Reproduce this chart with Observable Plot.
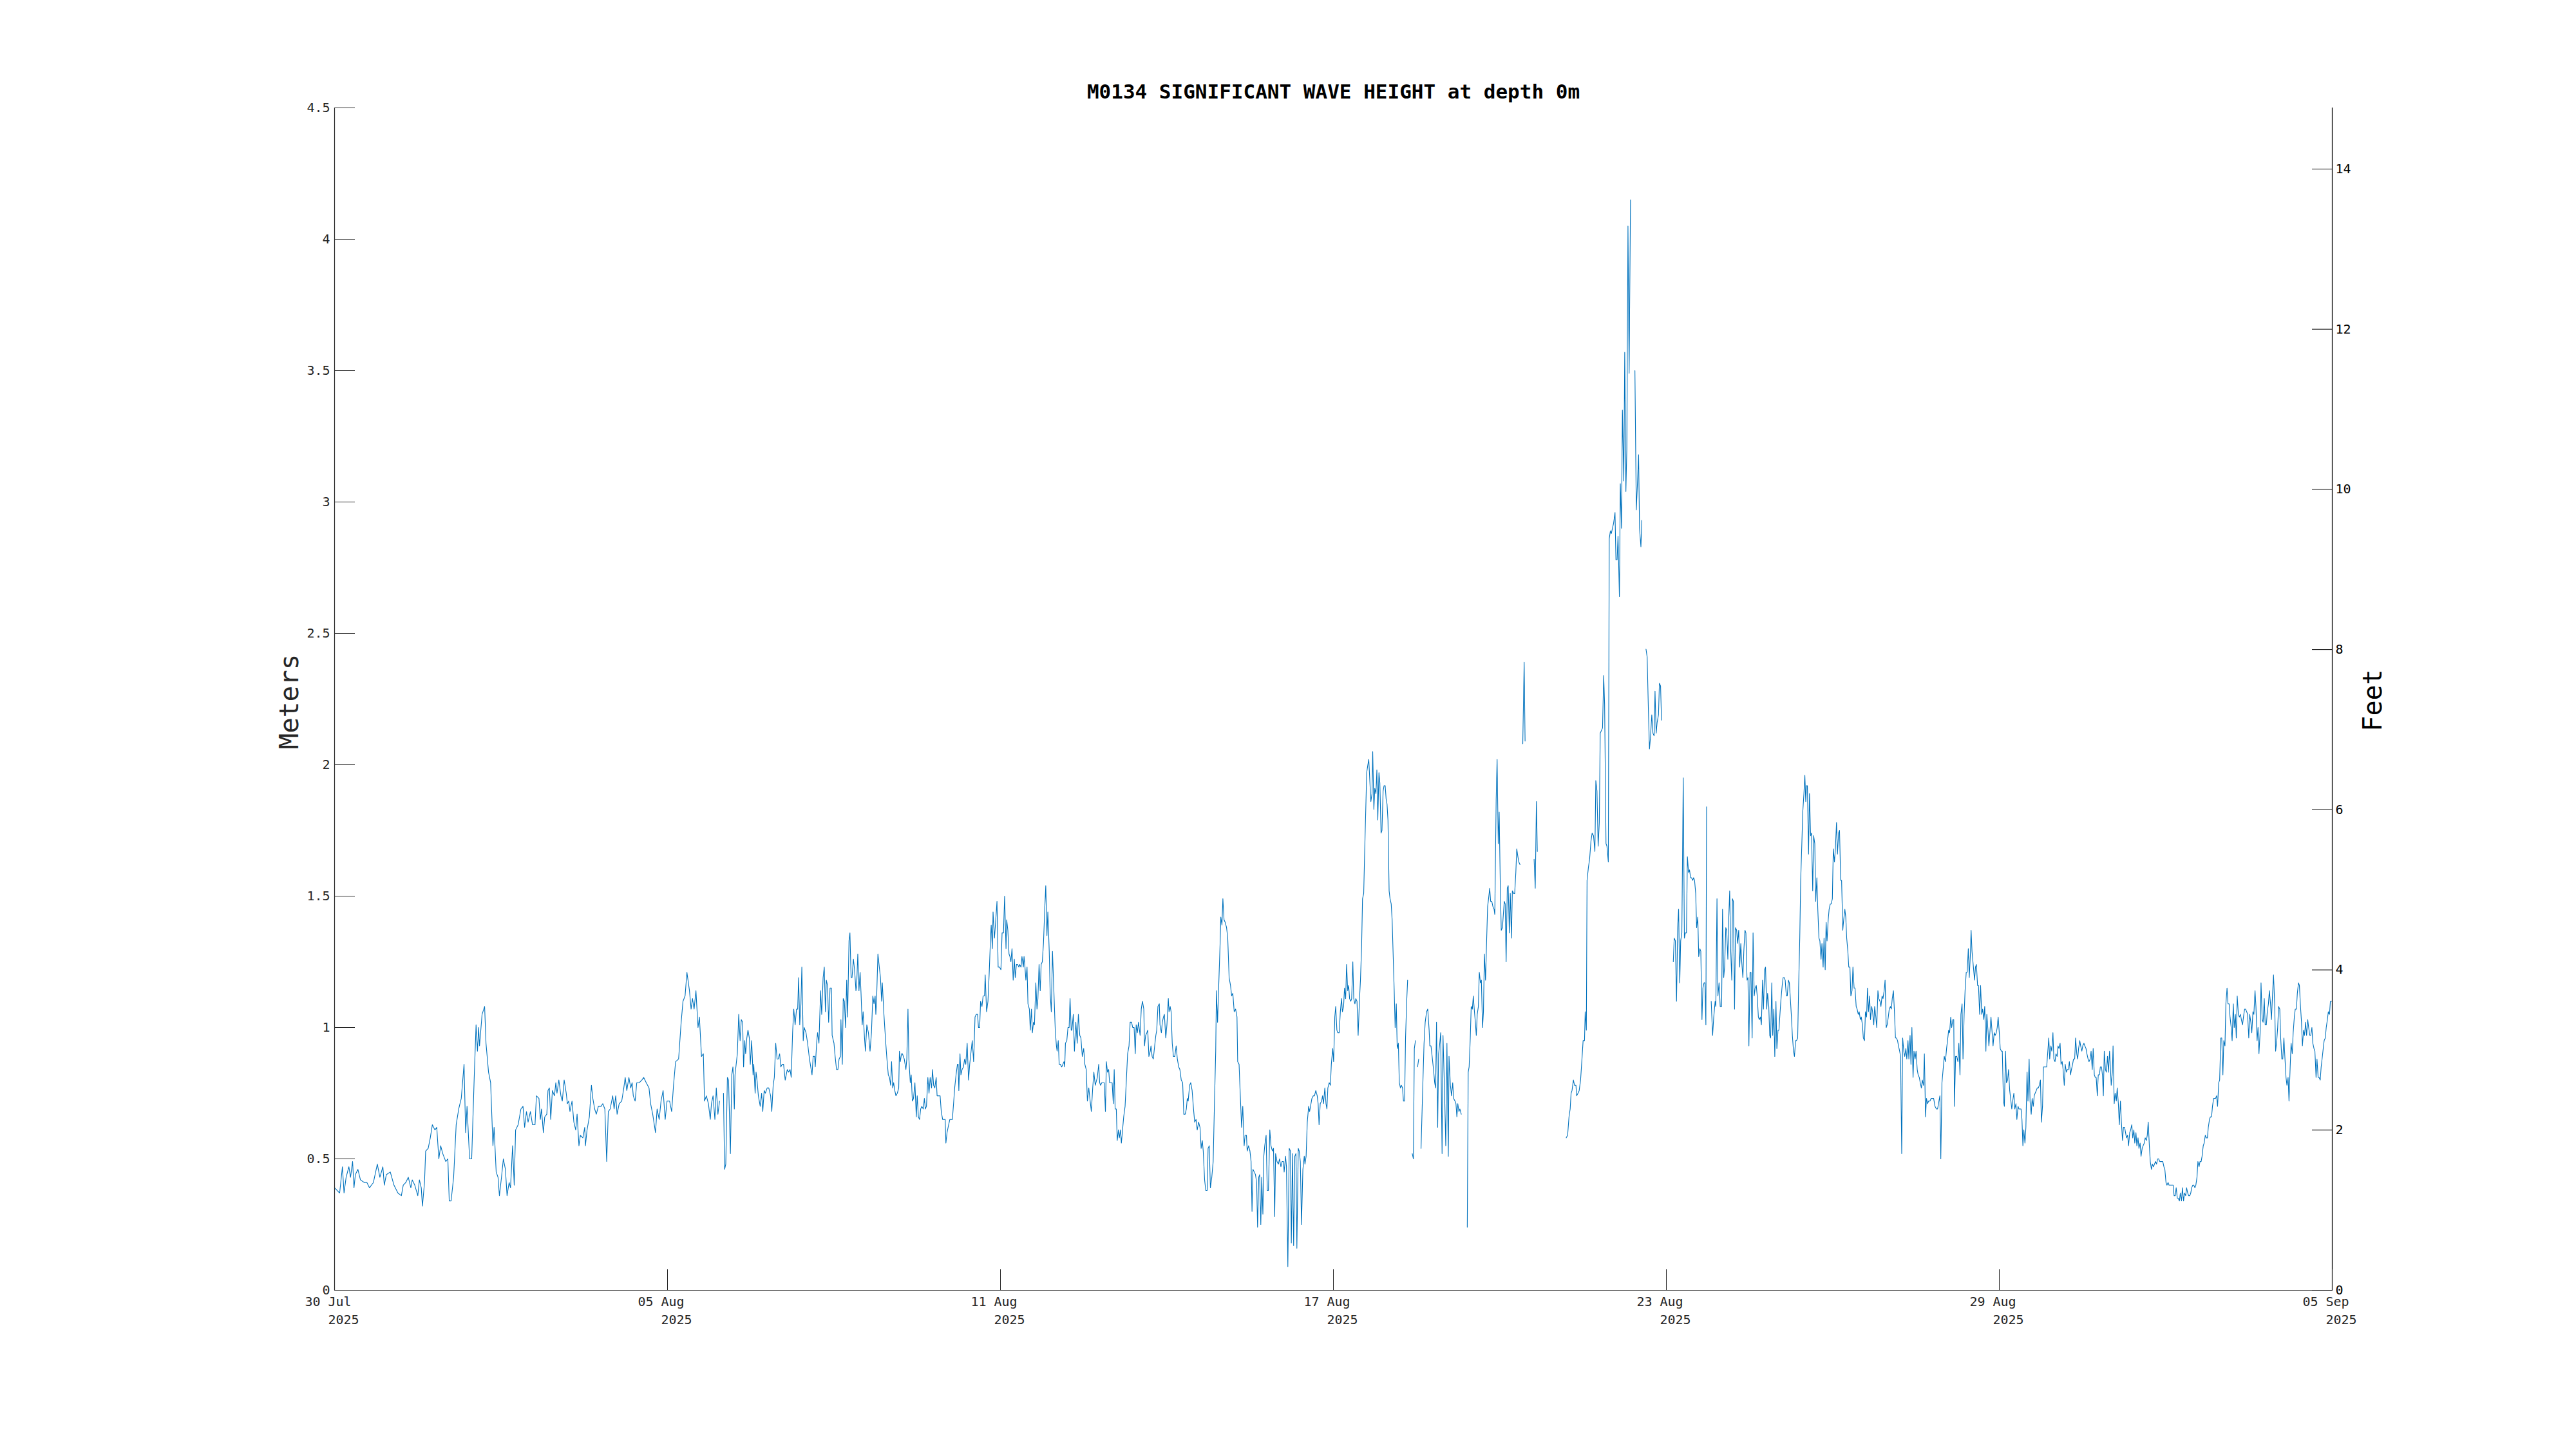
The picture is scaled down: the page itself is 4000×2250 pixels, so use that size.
<!DOCTYPE html>
<html><head><meta charset="utf-8">
<script src="https://cdn.jsdelivr.net/npm/d3@7"></script>
<script src="https://cdn.jsdelivr.net/npm/@observablehq/plot@0.6"></script>
<style>html,body{margin:0;padding:0;background:#fff;} svg{display:block;}</style>
</head><body><div id="chart"></div>
<script>
const titleText = "M0134 SIGNIFICANT WAVE HEIGHT at depth 0m";
const leftLabel = "Meters";
const rightLabel = "Feet";
const startTime = "2025-07-30T00:00:00Z";
const endTime = "2025-09-04T00:00:00Z";
const xTickDates = ["2025-07-30","2025-08-05","2025-08-11","2025-08-17","2025-08-23","2025-08-29","2025-09-04"];
const xTickDayLabels = ["30 Jul","05 Aug","11 Aug","17 Aug","23 Aug","29 Aug","05 Sep"];
const xTickYearLabels = ["2025","2025","2025","2025","2025","2025","2025"];
const meterTicks = [0,0.5,1,1.5,2,2.5,3,3.5,4,4.5];
const feetTicks = [0,2,4,6,8,10,12,14];
const metersPerFoot = 0.3048;

// [hours since 30 Jul 00:00, significant wave height in m]; null = gap
const readingsJul30 = [[0.0,0.39],[2.2,0.37],[3.4,0.47],[4.1,0.37],[5.0,0.43],[6.2,0.47],[6.9,0.43],[7.8,0.49],[8.4,0.39],[9.0,0.44],[10.1,0.46],[11.2,0.42],[12.9,0.41],[14.0,0.41],[15.1,0.39],[16.8,0.41],[18.5,0.48],[19.6,0.43],[20.9,0.47],[21.5,0.40],[22.4,0.44],[24.1,0.45],[25.7,0.40],[27.4,0.37],[28.9,0.36],[29.7,0.40],[30.8,0.41],[31.9,0.43],[33.0,0.39],[33.6,0.42],[34.7,0.40],[36.0,0.36],[36.7,0.42],[37.5,0.39],[38.0,0.32],[38.9,0.41],[39.4,0.53],[40.5,0.54],[41.4,0.58],[42.3,0.63],[43.4,0.61],[44.2,0.62],[45.1,0.50],[45.9,0.55],[46.8,0.52],[48.1,0.49],[49.0,0.50],[49.6,0.34],[50.4,0.34],[51.5,0.43],[52.6,0.63],[53.7,0.69],[54.8,0.73],[56.0,0.86],[56.7,0.60],[57.3,0.70],[58.4,0.50],[59.3,0.50],[60.4,0.81],[61.2,1.01],[61.8,0.91],[62.3,1.00],[62.7,0.93],[63.8,1.05],[64.9,1.08],[65.5,0.94],[66.6,0.83],[67.5,0.79],[68.5,0.55],[69.0,0.62],[69.9,0.45],[70.7,0.43],[71.3,0.36],[72.2,0.43],[73.0,0.50],[73.9,0.46],[74.6,0.36],[75.5,0.41],[76.1,0.39],[77.0,0.55],[77.7,0.40],[78.3,0.61],[79.4,0.63],[80.6,0.69],[81.5,0.70],[82.2,0.62],[83.0,0.68],[83.7,0.64],[84.7,0.68],[85.6,0.63],[86.7,0.63],[87.3,0.74],[88.4,0.73],[89.0,0.65],[89.5,0.69],[90.3,0.60],[90.9,0.66],[91.8,0.67],[92.3,0.76],[92.9,0.77],[93.5,0.65],[94.2,0.76],[95.1,0.74],[95.7,0.79],[96.2,0.75],[97.0,0.80],[97.9,0.74],[98.5,0.72],[99.3,0.80],[100.2,0.75],[100.7,0.71],[101.3,0.72],[101.8,0.68],[102.7,0.72],[103.5,0.64],[104.3,0.61],[104.9,0.67],[105.7,0.55],[106.3,0.59],[107.4,0.58],[108.2,0.62],[108.5,0.55],[109.2,0.61],[110.2,0.66],[111.1,0.78],[111.7,0.73],[112.5,0.69],[113.2,0.67],[114.1,0.70],[115.3,0.70],[116.0,0.71],[116.9,0.69],[117.7,0.49],[118.4,0.68],[119.2,0.69],[120.3,0.74],[120.9,0.69],[121.6,0.74],[122.2,0.67],[123.1,0.71],[124.2,0.72],[125.1,0.77],[125.7,0.81],[126.4,0.76],[127.3,0.81],[128.1,0.77],[128.7,0.79],[129.2,0.74],[130.0,0.72],[130.7,0.79],[131.8,0.79],[132.9,0.80],[133.7,0.81],[134.8,0.79],[136.0,0.77],[136.7,0.71],[137.6,0.67],[138.8,0.60],[139.5,0.69],[140.4,0.65],[141.2,0.72],[142.1,0.76],[143.0,0.65],[143.8,0.72],[144.9,0.72],[145.8,0.68],[146.6,0.78],[147.5,0.87],[148.8,0.88],[149.9,1.02],[150.7,1.10],[151.6,1.12],[152.4,1.21],[153.5,1.14],[154.2,1.07],[154.8,1.11],[155.5,1.07],[156.3,1.14],[157.2,1.00],[157.8,1.04],[158.7,0.89],[159.5,0.90],[160.0,0.72],[160.8,0.74],[161.7,0.71],[162.5,0.65],[163.0,0.71],[163.7,0.74],[164.5,0.65],[165.1,0.77],[165.8,0.67],[166.5,0.72],[167.3,null],[168.2,0.75],[168.7,0.46],[169.2,0.48],[169.9,0.81],[170.4,0.80],[171.2,0.52],[171.8,0.82],[172.3,0.85],[172.9,0.69],[173.2,0.82]];

const readingsAug06 = [[174.2,0.90],[174.8,1.05],[175.4,0.95],[175.9,1.03],[176.5,1.02],[176.9,0.85],[177.4,0.95],[177.8,0.90],[178.3,0.96],[178.8,0.99],[179.4,0.96],[179.8,0.86],[180.4,0.95],[181.0,0.82],[181.3,0.86],[181.9,0.75],[182.3,0.83],[182.7,0.80],[183.3,0.74],[184.1,0.70],[184.7,0.75],[185.2,0.68],[185.8,0.76],[186.3,0.75],[187.1,0.77],[187.8,0.77],[188.6,0.74],[189.1,0.68],[189.7,0.78],[190.2,0.81],[190.8,0.94],[191.4,0.88],[191.9,0.88],[192.5,0.90],[193.0,0.85],[193.6,0.86],[194.2,0.86],[194.9,0.80],[195.8,0.84],[196.4,0.83],[197.0,0.84],[197.5,0.81],[198.1,0.98],[198.6,1.07],[199.2,1.01],[199.8,1.07],[200.3,1.07],[200.7,1.19],[201.2,1.01],[201.7,1.09],[202.1,1.23],[202.7,0.95],[203.1,1.00],[203.9,0.98],[204.6,0.94],[205.4,0.88],[206.5,0.82],[207.0,0.89],[207.6,0.89],[207.9,0.85],[208.5,0.94],[208.9,0.98],[209.5,0.94],[210.2,1.14],[210.7,1.05],[211.3,1.19],[211.8,1.23],[212.3,1.06],[212.7,1.18],[213.2,1.16],[213.7,1.02],[214.3,1.15],[214.9,1.15],[215.2,0.97],[216.0,0.94],[216.5,0.89],[217.1,0.84],[217.7,0.84],[218.2,0.88],[218.8,0.89],[219.0,1.03],[219.6,0.86],[220.0,1.11],[220.5,1.10],[221.0,1.00],[221.5,1.18],[221.9,1.04],[222.5,1.33],[222.9,1.36],[223.4,1.19],[223.8,1.19],[224.4,1.26],[224.9,1.22],[225.5,1.14],[225.8,1.16],[226.3,1.28],[226.8,1.14],[227.3,1.21],[227.7,1.13],[228.2,1.01],[228.6,1.06],[229.2,0.96],[229.6,0.91],[230.2,1.01],[230.9,0.98],[231.6,0.91],[232.2,0.98],[232.8,1.12],[233.3,1.09],[233.8,1.12],[234.1,1.05],[234.4,1.10],[235.0,1.28],[235.6,1.23],[236.1,1.19],[236.6,1.10],[236.9,1.17],[237.6,1.05],[238.4,0.94],[238.9,0.88],[239.5,0.82],[240.0,0.81],[240.5,0.78],[240.9,0.87],[241.4,0.77],[241.8,0.79],[242.3,0.76],[242.8,0.74],[243.4,0.75],[244.0,0.77],[244.3,0.91],[244.7,0.87],[245.2,0.90],[245.6,0.90],[246.4,0.88],[247.1,0.84],[247.5,0.88],[248.0,1.07],[248.4,0.88],[249.0,0.79],[249.4,0.82],[249.9,0.72],[250.4,0.73],[251.0,0.79],[251.6,0.66],[252.0,0.74],[252.5,0.66],[253.0,0.65],[253.5,0.69],[254.0,0.70],[254.6,0.69],[255.1,0.73],[255.5,0.69],[256.0,0.70],[256.6,0.81],[257.1,0.75],[257.6,0.81],[258.2,0.77],[258.6,0.84],[259.1,0.78],[259.6,0.77],[260.2,0.81],[260.6,0.74],[261.3,0.74],[261.9,0.74],[262.4,0.68],[263.0,0.65],[263.5,0.65],[264.1,0.65],[264.4,0.56],[264.9,0.60],[265.6,0.63],[266.1,0.65],[266.7,0.65],[267.2,0.65],[267.8,0.72],[268.2,0.77],[268.8,0.82],[269.4,0.86],[269.7,0.86],[270.0,0.76],[270.5,0.90],[270.9,0.82],[271.4,0.84],[272.0,0.85],[272.5,0.88],[273.0,0.86],[273.6,0.94],[274.2,0.80],[274.7,0.86],[275.3,0.91],[275.8,0.95],[276.4,0.87],[277.0,1.04],[277.5,1.05],[278.1,1.05],[278.5,1.00],[279.0,1.00],[279.4,1.10],[280.0,1.08],[280.5,1.12],[281.1,1.12],[281.4,1.20],[282.0,1.06],[282.6,1.10],[283.1,1.20],[283.7,1.34],[284.0,1.39],[284.5,1.30],[284.8,1.44],[285.4,1.34],[285.9,1.40],[286.5,1.48],[287.0,1.23],[287.6,1.23],[288.2,1.22],[288.7,1.36],[289.3,1.36],[289.8,1.50],[290.4,1.30],[290.7,1.41],[291.2,1.37],[291.7,1.28],[292.1,1.27],[292.5,1.25],[293.0,1.30],[293.5,1.18],[294.0,1.26],[294.4,1.19],[294.9,1.24],[295.4,1.24],[296.0,1.23],[296.3,1.24],[296.9,1.23],[297.3,1.27],[297.9,1.23],[298.2,1.27],[298.6,1.23],[299.0,1.18],[299.5,1.23],[299.9,1.09],[300.5,1.07],[300.9,0.99],[301.4,1.07],[301.8,0.98],[302.3,1.02],[302.7,1.01],[303.3,1.17],[303.8,1.07],[304.2,1.11],[304.7,1.24],[305.2,1.14],[305.6,1.24],[306.1,1.25],[306.6,1.32],[307.2,1.46],[307.6,1.54],[308.1,1.35],[308.5,1.44],[309.1,1.29],[309.5,1.13],[310.0,1.06],[310.5,1.29],[311.1,1.14],[311.7,0.99],[312.2,0.93],[312.5,0.91],[313.0,0.95],[313.4,0.86],[313.9,0.86],[314.5,0.85],[315.0,0.86],[315.5,0.87],[315.8,0.85],[316.1,0.94],[316.7,0.95],[317.2,1.00],[317.7,1.00],[318.1,1.11],[318.6,0.99],[318.9,0.99],[319.5,1.05],[320.0,0.91],[320.6,1.02],[321.2,0.94],[321.7,1.05],[322.3,0.97],[322.8,0.96],[323.4,0.89],[324.0,0.92],[324.5,0.86],[325.1,0.84],[325.6,0.72],[326.2,0.77],[326.8,0.72],[327.3,0.68],[327.9,0.77],[328.4,0.83],[329.0,0.78],[329.3,0.79],[329.9,0.81],[330.5,0.86],[330.9,0.79],[331.3,0.78],[331.8,0.79],[332.4,0.79],[332.9,0.79],[333.4,0.68],[333.8,0.87],[334.3,0.83],[334.8,0.84],[335.2,0.79],[335.7,0.79],[336.3,0.79],[336.8,0.71],[337.2,0.84],[337.6,0.69],[338.1,0.69],[338.5,0.57],[339.0,0.61],[339.4,0.58],[339.9,0.61],[340.3,0.56],[340.8,0.61],[341.3,0.66],[341.9,0.70],[342.4,0.79],[343.0,0.90],[343.6,0.93],[344.1,1.02],[344.7,1.02],[345.2,1.00],[345.8,1.00],[346.3,0.90],[346.7,1.01],[347.2,0.98],[347.7,1.02],[348.4,0.97]];

const readingsAug13 = [[348.9,1.07],[349.4,1.10],[350.0,1.07],[350.3,0.93],[350.8,0.97],[351.3,0.98],[351.7,0.99],[352.2,0.89],[352.8,0.91],[353.1,0.93],[353.6,0.89],[354.1,0.88],[354.7,0.93],[355.2,0.97],[355.6,0.99],[356.1,1.08],[356.7,1.09],[357.0,1.01],[357.6,0.98],[358.0,1.02],[358.5,1.04],[358.9,1.05],[359.5,0.96],[360.0,1.01],[360.6,1.11],[360.9,1.06],[361.4,1.08],[361.8,1.06],[362.3,0.94],[362.8,0.89],[363.4,0.89],[364.0,0.93],[364.5,0.88],[365.1,0.85],[365.6,0.84],[366.2,0.80],[366.8,0.79],[367.3,0.67],[367.9,0.67],[368.4,0.69],[368.8,0.73],[369.2,0.72],[369.8,0.78],[370.3,0.79],[370.9,0.76],[371.5,0.69],[372.0,0.64],[372.6,0.65],[373.1,0.61],[373.7,0.64],[374.3,0.62],[374.8,0.54],[375.3,0.57],[375.7,0.53],[376.3,0.42],[376.8,0.38],[377.4,0.38],[377.8,0.54],[378.3,0.55],[378.8,0.39],[379.4,0.43],[380.0,0.49],[380.5,0.69],[381.1,0.91],[381.4,1.14],[381.9,1.02],[382.4,1.16],[383.0,1.32],[383.3,1.42],[383.8,1.39],[384.2,1.49],[384.7,1.41],[385.2,1.40],[385.8,1.38],[386.3,1.34],[386.9,1.19],[387.5,1.16],[388.0,1.12],[388.5,1.13],[389.1,1.06],[389.7,1.07],[390.3,1.04],[390.6,0.87],[391.2,0.86],[391.6,0.77],[392.3,0.62],[392.8,0.70],[393.4,0.55],[393.8,0.59],[394.4,0.59],[394.7,0.53],[395.3,0.55],[395.9,0.53],[396.4,0.49],[396.8,0.30],[397.2,0.46],[397.8,0.45],[398.3,0.44],[398.8,0.41],[399.2,0.24],[399.7,0.43],[400.1,0.44],[400.6,0.25],[401.0,0.43],[401.5,0.29],[401.9,0.51],[402.3,0.55],[402.9,0.59],[403.4,0.38],[403.9,0.38],[404.5,0.61],[405.0,0.55],[405.6,0.53],[406.1,0.54],[406.6,0.28],[407.0,0.52],[407.6,0.49],[408.2,0.48],[408.7,0.50],[409.3,0.47],[409.8,0.49],[410.4,0.49],[410.7,0.45],[411.3,0.51],[411.7,0.47],[412.3,0.09],[412.9,0.54],[413.4,0.53],[413.8,0.18],[414.3,0.52],[414.8,0.17],[415.3,0.51],[415.8,0.52],[416.2,0.16],[416.8,0.54],[417.2,0.53],[417.7,0.49],[418.2,0.25],[418.8,0.46],[419.4,0.51],[419.7,0.48],[420.2,0.51],[420.7,0.64],[421.3,0.70],[421.7,0.68],[422.3,0.71],[422.7,0.73],[423.3,0.74],[423.8,0.74],[424.4,0.76],[425.0,0.74],[425.4,0.71],[425.8,0.63],[426.3,0.71],[426.9,0.72],[427.3,0.74],[427.7,0.71],[428.3,0.77],[428.8,0.71],[429.2,0.69],[429.6,0.77],[430.2,0.79],[430.7,0.78],[431.1,0.86],[431.7,0.92],[432.1,0.87],[432.6,1.04],[433.0,1.08],[433.5,0.99],[433.9,0.98],[434.5,0.98],[435.0,1.06],[435.5,1.11],[435.9,1.06],[436.4,1.08],[436.8,1.15],[437.3,1.11],[437.7,1.24],[438.2,1.14],[438.6,1.16],[439.0,1.11],[439.5,1.10],[439.9,1.11],[440.4,1.25],[440.8,1.11],[441.3,1.09],[441.7,1.11],[442.2,1.10],[442.7,0.97],[443.3,1.11],[443.7,1.18],[444.2,1.31],[444.6,1.49],[445.1,1.51],[445.5,1.66],[446.0,1.83],[446.4,1.97],[446.9,2.00],[447.3,2.02],[447.8,1.93],[448.2,1.86],[448.7,1.89],[449.0,2.05],[449.5,1.83],[449.9,1.91],[450.4,1.89],[450.8,1.98],[451.2,1.79],[451.7,1.97],[452.1,1.93],[452.6,1.74],[453.0,1.75],[453.5,1.90],[453.9,1.92],[454.4,1.92],[454.8,1.87],[455.2,1.85],[455.6,1.79],[456.1,1.52],[456.5,1.49],[457.0,1.47],[457.4,1.41],[457.9,1.26],[458.3,1.14],[458.7,1.00],[459.2,1.09],[459.6,0.92],[460.1,0.94],[460.5,0.79],[461.0,0.77],[461.4,0.78],[461.9,0.77],[462.3,0.72],[462.8,0.72],[463.2,0.96],[463.7,1.10],[464.1,1.18],[465.0,null],[466.1,0.52],[466.6,0.50],[467.0,0.92],[467.5,0.95],[468.0,null],[468.4,0.85],[468.9,0.88],[469.4,null],[469.9,0.54],[470.6,0.76],[471.2,0.94],[471.7,1.02],[472.3,1.06],[472.8,1.07],[473.4,0.99],[473.7,0.93],[474.2,0.93],[474.7,0.89],[475.3,0.84],[475.8,0.79],[476.2,0.77],[476.6,1.02],[477.1,0.62],[477.5,0.90],[478.0,0.94],[478.4,0.98],[479.0,0.52],[479.4,0.97],[480.0,0.78],[480.6,0.55],[481.1,0.94],[481.7,0.51],[482.0,0.89],[482.6,0.78],[483.1,0.74],[483.6,0.79],[484.0,0.73],[484.6,0.72],[485.0,0.71],[485.4,0.66],[485.8,0.71],[486.3,0.68],[486.7,0.69],[487.3,0.67],[488.5,null],[489.9,0.24],[490.3,0.83],[490.7,0.85],[491.2,0.96],[491.6,1.08],[492.1,1.07],[492.5,1.12],[493.0,1.06],[493.4,1.02],[493.8,0.97],[494.2,1.05],[494.7,1.08],[495.1,1.21],[495.6,1.17],[496.0,1.18],[496.5,1.00],[496.9,1.06],[497.3,1.28],[497.8,1.18],[498.2,1.31],[498.7,1.46],[499.1,1.49],[499.6,1.53],[500.0,1.48],[500.5,1.48],[501.0,1.46],[501.5,1.45],[501.8,1.43],[502.4,1.87],[502.8,2.02],[503.3,1.70],[503.7,1.82],[504.2,1.53],[504.6,1.37],[505.1,1.38],[505.5,1.43],[505.9,1.48],[506.3,1.47],[506.7,1.25],[507.2,1.53],[507.6,1.54],[508.1,1.36],[508.5,1.51],[509.0,1.34],[509.4,1.52],[510.0,1.51],[510.4,1.51],[510.9,1.59],[511.3,1.68],[511.8,1.65],[512.2,1.63],[512.7,1.62],[513.3,null],[513.9,2.08],[514.5,2.39],[514.9,2.09],[516.0,null],[518.8,1.64],[519.3,1.53],[519.8,1.86],[520.2,1.67],[521.0,null]];

const readingsAug21 = [[532.7,0.58],[533.3,0.59],[533.9,0.66],[534.4,0.69],[534.8,0.75],[535.2,0.76],[535.8,0.80],[536.3,0.78],[536.9,0.78],[537.2,0.74],[537.8,0.75],[538.3,0.76],[538.9,0.80],[539.5,0.88],[540.0,0.95],[540.6,0.95],[540.9,1.06],[541.4,0.99],[541.7,1.56],[542.3,1.61],[542.8,1.64],[543.4,1.71],[543.9,1.74],[544.5,1.73],[545.1,1.67],[545.5,1.94],[546.0,1.90],[546.5,1.69],[547.0,1.78],[547.4,2.12],[547.9,2.13],[548.4,2.14],[548.9,2.34],[549.3,2.23],[549.9,1.70],[550.3,1.69],[550.9,1.63],[551.3,2.86],[551.8,2.89],[552.2,2.88],[553.2,2.92],[553.8,2.96],[554.2,2.78],[554.7,2.78],[555.1,2.87],[555.7,2.64],[556.1,3.07],[556.6,2.90],[557.0,3.35],[557.6,3.08],[558.0,3.57],[558.5,3.04],[558.9,3.20],[559.4,4.05],[559.9,3.49],[560.5,4.15],[561.5,null],[562.4,3.50],[563.0,2.97],[563.5,3.07],[564.0,3.18],[564.4,2.90],[565.0,2.83],[565.4,2.93],[566.5,null],[567.2,2.44],[567.7,2.41],[568.2,2.22],[568.7,2.06],[569.1,2.10],[569.7,2.19],[570.2,2.12],[570.7,2.11],[571.1,2.28],[571.6,2.12],[572.0,2.16],[572.6,2.19],[573.0,2.31],[573.5,2.30],[573.9,2.17],[576.0,null],[579.0,1.25],[579.4,1.34],[579.9,1.33],[580.4,1.10],[580.9,1.38],[581.3,1.45],[581.8,1.17],[582.2,1.33],[582.7,1.36],[583.3,1.95],[583.8,1.34],[584.2,1.36],[584.7,1.36],[585.1,1.65],[585.6,1.59],[586.0,1.60],[586.5,1.57],[586.9,1.57],[587.4,1.56],[587.8,1.57],[588.2,1.56],[588.7,1.51],[589.1,1.38],[589.6,1.42],[590.0,1.27],[590.5,1.30],[590.9,1.29],[591.4,1.03],[591.8,1.15],[592.3,1.17],[592.7,1.17],[593.1,1.01],[593.4,1.84],[594.5,null],[595.4,1.10],[596.0,0.97],[596.5,1.04],[597.1,1.10],[597.4,1.08],[597.9,1.49],[598.3,1.12],[598.8,1.17],[599.3,1.08],[599.9,1.08],[600.3,1.45],[600.8,1.19],[601.2,1.23],[601.7,1.38],[602.1,1.37],[602.6,1.26],[603.0,1.42],[603.4,1.52],[603.8,1.30],[604.3,1.18],[604.6,1.49],[605.0,1.48],[605.5,1.07],[605.9,1.38],[606.4,1.37],[606.8,1.32],[607.3,1.37],[607.7,1.23],[608.2,1.32],[608.6,1.25],[609.1,1.19],[609.5,1.29],[610.0,1.37],[610.4,1.36],[610.9,1.18],[611.3,1.19],[611.7,0.93],[612.2,1.21],[612.6,1.21],[613.1,0.96],[613.5,1.36],[614.0,1.12],[614.4,1.15],[614.9,1.16],[615.3,1.12],[615.8,1.04],[616.2,1.03],[616.7,1.04],[617.1,1.01],[617.6,1.18],[618.0,1.07],[618.5,1.22],[618.9,1.23],[619.4,1.07],[619.8,1.13],[620.3,1.08],[620.7,0.97],[621.1,0.96],[621.6,1.17],[622.0,0.97],[622.5,1.07],[622.9,0.89],[623.4,1.10],[623.8,0.92],[624.3,0.99],[624.7,0.99],[625.2,1.06],[625.6,1.11],[626.1,1.16],[626.5,1.19],[627.0,1.19],[627.4,1.18],[627.9,1.12],[628.3,1.12],[628.8,1.18],[629.2,1.17],[629.7,1.10],[630.1,1.04],[630.5,0.97],[631.0,0.91],[631.4,0.89],[631.9,0.95],[632.3,0.95],[632.8,0.96],[633.2,1.15],[633.7,1.34],[634.1,1.56],[634.6,1.70],[635.0,1.82],[635.5,1.89],[635.9,1.96],[636.3,1.86],[636.6,1.92],[637.0,1.92],[637.5,1.66],[637.9,1.89],[638.4,1.73],[638.8,1.74],[639.3,1.52],[639.7,1.73],[640.2,1.70],[640.6,1.48],[641.1,1.57],[641.5,1.45],[642.0,1.34],[642.4,1.33],[642.9,1.26],[643.3,1.32],[643.8,1.23],[644.2,1.34],[644.7,1.22],[645.1,1.40],[645.5,1.33],[646.0,1.41],[646.4,1.45],[646.9,1.47],[647.3,1.47],[647.8,1.49],[648.2,1.68],[648.7,1.63],[649.1,1.68],[649.6,1.78],[650.0,1.66],[650.5,1.74],[650.9,1.75],[651.4,1.56],[651.8,1.56],[652.3,1.37],[652.7,1.41],[653.2,1.45],[653.6,1.42],[654.0,1.34],[654.5,1.29],[654.9,1.23],[655.4,1.23],[655.8,1.12],[656.3,1.14],[656.7,1.23],[657.2,1.15],[657.6,1.15],[658.1,1.08],[658.5,1.07],[659.0,1.05],[659.4,1.06],[659.9,1.03],[660.3,1.04],[660.8,1.01],[661.2,0.96],[661.7,0.95],[662.1,1.06],[662.6,1.04],[663.0,1.15],[663.4,1.06],[663.9,1.12],[664.3,1.03],[664.8,1.08],[665.2,1.06],[665.7,1.01],[666.1,1.08],[666.6,1.04],[667.0,1.00],[667.5,1.14],[667.9,1.11],[668.4,1.10],[668.8,1.08],[669.3,1.12],[669.7,1.11],[670.2,1.14],[670.6,1.18],[671.1,1.00],[671.5,1.01],[672.0,1.04],[672.4,1.07],[672.9,1.08],[673.3,1.07],[673.7,1.11],[674.2,1.14],[674.6,1.07],[675.1,0.96],[675.5,0.96],[676.0,0.95],[676.4,0.93],[676.9,0.91],[677.3,0.89],[677.8,0.52],[678.2,0.96],[678.7,0.91],[679.1,0.89],[679.6,0.92],[680.0,0.88],[680.5,0.95],[680.9,0.88],[681.4,0.97],[681.8,0.86],[682.2,1.00],[682.7,0.81],[683.1,0.91],[683.6,0.88],[684.0,0.91],[684.5,0.84],[684.9,0.82],[685.4,0.81],[685.8,0.79],[686.3,0.77],[686.7,0.80],[687.2,0.78],[687.6,0.90],[688.1,0.66],[688.5,0.73],[689.0,0.71],[689.4,0.72],[690.0,0.72],[690.5,0.73],[691.1,0.73],[691.6,0.73],[692.2,0.70],[692.8,0.69],[693.3,0.69]];

const readingsAug28 = [[694.3,0.74],[694.7,0.50],[695.2,0.79],[695.6,0.83],[696.2,0.89],[696.7,0.87],[697.2,0.92],[697.6,0.95],[698.1,0.99],[698.5,0.98],[699.0,1.04],[699.4,1.00],[699.9,1.03],[700.3,1.03],[700.6,0.70],[701.1,0.89],[701.6,0.89],[702.1,0.87],[702.5,0.94],[703.0,0.82],[703.4,1.05],[703.9,1.09],[704.3,0.88],[704.8,1.05],[705.2,1.14],[705.7,1.21],[706.1,1.21],[706.6,1.30],[707.0,1.19],[707.5,1.28],[707.8,1.37],[708.2,1.29],[708.8,1.23],[709.3,1.18],[709.7,1.23],[710.1,1.24],[710.6,1.16],[711.0,1.16],[711.5,1.05],[711.9,1.16],[712.4,1.05],[712.8,1.07],[713.3,1.03],[713.7,1.08],[714.2,0.91],[714.6,1.05],[715.1,0.99],[715.5,0.93],[716.0,0.99],[716.4,1.04],[716.9,0.98],[717.3,0.93],[717.8,0.98],[718.2,0.97],[718.7,0.98],[719.1,1.00],[719.5,1.04],[720.0,0.98],[720.4,0.92],[720.9,0.91],[721.3,0.91],[721.8,0.72],[722.2,0.70],[722.7,0.91],[723.1,0.79],[723.6,0.80],[724.0,0.84],[724.5,0.76],[724.9,0.73],[725.4,0.69],[725.8,0.72],[726.3,0.75],[726.7,0.69],[727.2,0.71],[727.6,0.65],[728.1,0.70],[728.5,0.69],[729.0,0.69],[729.4,0.69],[729.8,0.65],[730.2,0.55],[730.6,0.61],[731.1,0.56],[731.5,0.62],[732.0,0.83],[732.4,0.72],[732.9,0.88],[733.3,0.72],[733.8,0.67],[734.2,0.73],[734.7,0.70],[735.1,0.74],[735.5,0.75],[736.0,0.76],[736.4,0.77],[736.9,0.77],[737.3,0.78],[737.8,0.80],[738.2,0.64],[738.7,0.70],[739.1,0.85],[739.6,0.85],[740.0,0.85],[740.5,0.85],[740.9,0.90],[741.4,0.96],[741.8,0.88],[742.3,0.93],[742.7,0.91],[743.2,0.98],[743.6,0.88],[744.1,0.87],[744.5,0.90],[745.0,0.89],[745.4,0.93],[745.8,0.92],[746.3,0.94],[746.7,0.86],[747.2,0.87],[747.6,0.84],[748.1,0.78],[748.5,0.86],[749.0,0.83],[749.4,0.84],[749.9,0.84],[750.3,0.87],[750.8,0.82],[751.2,0.84],[751.7,0.86],[752.1,0.88],[752.6,0.88],[753.0,0.96],[753.5,0.90],[753.9,0.88],[754.3,0.92],[754.8,0.95],[755.2,0.93],[755.7,0.91],[756.1,0.93],[756.6,0.94],[757.0,0.93],[757.5,0.92],[757.9,0.90],[758.4,0.88],[758.8,0.87],[759.3,0.88],[759.7,0.91],[760.2,0.84],[760.6,0.92],[761.1,0.82],[761.5,0.81],[761.9,0.81],[762.4,0.74],[762.8,0.82],[763.3,0.82],[763.7,0.85],[764.2,0.85],[764.6,0.82],[765.0,0.74],[765.4,0.91],[765.9,0.84],[766.3,0.83],[766.8,0.89],[767.2,0.83],[767.7,0.91],[768.1,0.84],[768.4,0.78],[768.9,0.83],[769.2,0.93],[769.7,0.71],[770.1,0.75],[770.6,0.72],[771.0,0.77],[771.5,0.71],[771.9,0.63],[772.4,0.72],[772.8,0.64],[773.3,0.57],[773.7,0.62],[774.2,0.62],[774.6,0.60],[775.0,0.58],[775.5,0.59],[775.9,0.55],[776.4,0.60],[776.8,0.61],[777.3,0.63],[777.7,0.58],[778.2,0.61],[778.6,0.56],[779.1,0.60],[779.5,0.55],[780.0,0.58],[780.4,0.54],[780.9,0.56],[781.3,0.51],[781.8,0.54],[782.2,0.55],[782.7,0.56],[783.1,0.58],[783.6,0.57],[784.0,0.59],[784.4,0.64],[784.9,0.55],[785.3,0.49],[785.8,0.46],[786.2,0.48],[786.7,0.47],[787.1,0.48],[787.6,0.49],[788.0,0.48],[788.5,0.50],[788.9,0.50],[789.4,0.49],[789.8,0.49],[790.3,0.49],[790.7,0.49],[791.2,0.47],[791.6,0.46],[792.1,0.41],[792.5,0.40],[793.0,0.41],[793.4,0.40],[793.8,0.40],[794.3,0.40],[794.7,0.40],[795.2,0.40],[795.6,0.36],[796.1,0.36],[796.5,0.39],[797.0,0.35],[797.4,0.35],[797.9,0.34],[798.3,0.37],[798.8,0.34],[799.2,0.39],[799.7,0.34],[800.1,0.37],[800.6,0.36],[801.0,0.39],[801.5,0.37],[801.9,0.36],[802.4,0.36],[802.8,0.37],[803.2,0.39],[803.7,0.40],[804.1,0.40],[804.6,0.39],[805.0,0.40],[805.5,0.43],[805.9,0.49],[806.4,0.47],[806.8,0.49],[807.3,0.49],[807.7,0.51],[808.2,0.55],[808.6,0.56],[809.1,0.59],[809.5,0.58],[810.0,0.58],[810.4,0.62],[810.9,0.65],[811.3,0.66],[811.8,0.66],[812.2,0.70],[812.7,0.73],[813.1,0.73],[813.5,0.73],[814.0,0.74],[814.4,0.70],[814.9,0.79],[815.3,0.80],[815.8,0.96],[816.2,0.96],[816.7,0.82],[817.1,0.95],[817.6,0.93],[818.0,1.09],[818.5,1.15],[818.9,1.09],[819.4,1.09],[819.8,1.04],[820.3,1.00],[820.7,0.95],[821.2,1.09],[821.6,1.00],[822.1,1.05],[822.5,0.96],[822.9,1.12],[823.4,1.05],[823.8,1.04],[824.3,1.05],[824.7,1.03],[825.2,1.01],[825.6,1.04],[826.1,1.07],[826.5,1.07],[827.0,1.06],[827.4,1.05],[827.9,0.96],[828.3,1.05],[828.8,1.02],[829.2,0.98],[829.7,1.06],[830.1,1.05],[830.6,1.14],[831.0,1.08],[831.5,0.95],[831.9,1.00],[832.3,0.90],[832.8,0.98],[833.2,1.17],[833.7,1.03],[834.1,1.02],[834.6,1.11],[835.0,1.01],[835.5,1.01],[835.9,1.06],[836.4,1.09],[836.8,1.14],[837.3,1.09],[837.7,1.03],[838.2,1.13],[838.6,1.20],[839.1,1.09],[839.5,0.91],[840.0,0.95],[840.4,1.00],[840.8,1.08],[841.3,1.07],[841.7,0.96],[842.2,0.88],[842.6,0.88],[843.1,0.96],[843.5,0.89],[844.0,0.81],[844.4,0.78],[844.9,0.81],[845.3,0.72],[845.8,0.85],[846.2,0.94],[846.7,0.90],[847.1,0.98],[847.6,1.04],[848.0,1.07],[848.5,1.07],[848.9,1.13],[849.4,1.17],[849.8,1.16],[850.2,1.09],[850.7,1.02],[851.1,0.93],[851.6,0.99],[852.0,0.97],[852.5,1.02],[852.9,0.97],[853.4,1.03],[853.8,1.00],[854.3,0.97],[854.7,0.97],[855.2,1.00],[855.6,0.94],[856.1,0.92],[856.5,0.91],[857.0,0.81],[857.4,0.88],[857.9,0.81],[858.3,0.81],[858.8,0.80],[859.2,0.85],[859.6,0.88],[860.1,0.92],[860.5,0.95],[861.0,0.96],[861.4,1.00],[861.9,1.03],[862.3,1.06],[862.8,1.05],[863.2,1.10],[863.7,1.10]];

const t0 = Date.parse(startTime);
const series = [...readingsJul30, ...readingsAug06, ...readingsAug13, ...readingsAug21, ...readingsAug28]
  .map(([h, v]) => ({time: new Date(t0 + h * 3600000), hs: v}));
const xTicks = xTickDates.map(d => new Date(d + "T00:00:00Z"));
const tickIndex = d => xTicks.findIndex(t => +t === +d);
const feetTickMeters = feetTicks.map(f => f * metersPerFoot);

const axisColor = "#262626";
const lineColor = "#0072BD";
const mono = "DejaVu Sans Mono";

const chart = Plot.plot({
  width: 4000, height: 2250,
  marginLeft: 519, marginRight: 379, marginTop: 167, marginBottom: 247,
  style: {fontFamily: mono, fontSize: "20px", background: "#fff", color: axisColor},
  x: {type: "utc", domain: [new Date(startTime), new Date(endTime)]},
  y: {domain: [0, 4.5]},
  marks: [
    Plot.line(series, {x: "time", y: "hs", stroke: lineColor, strokeWidth: 1.1}),
    Plot.ruleX([new Date(startTime)], {stroke: axisColor, strokeWidth: 1.2}),
    Plot.ruleX([new Date(endTime)], {stroke: "#000", strokeWidth: 1.2}),
    Plot.ruleY([0], {stroke: axisColor, strokeWidth: 1.2}),
    Plot.axisY(meterTicks, {anchor: "left", tickSize: -32, fill: "none", stroke: axisColor, label: null}),
    Plot.axisY(meterTicks, {anchor: "left", tickSize: 0, tickPadding: 7, tickFormat: d => String(d), fill: axisColor, label: null}),
    Plot.axisY(feetTickMeters, {anchor: "right", tickSize: -32, fill: "none", stroke: "#000", label: null}),
    Plot.axisY(feetTickMeters, {anchor: "right", tickSize: 0, tickPadding: 5, tickFormat: d => String(Math.round(d / metersPerFoot)), fill: "#000", label: null}),
    Plot.axisX(xTicks, {anchor: "bottom", tickSize: -32, fill: "none", stroke: axisColor, label: null}),
    Plot.axisX(xTicks, {anchor: "bottom", tickSize: 0, tickPadding: 10, dx: -10, tickFormat: d => xTickDayLabels[tickIndex(d)], fill: axisColor, label: null}),
    Plot.axisX(xTicks, {anchor: "bottom", tickSize: 0, tickPadding: 38, dx: -10, textAnchor: "start", tickFormat: d => xTickYearLabels[tickIndex(d)], fill: axisColor, label: null}),
    Plot.text([titleText], {text: d => d, frameAnchor: "top", textAnchor: "middle", lineAnchor: "bottom", dy: -15, fontSize: 31, fontWeight: "bold", fill: "#000"}),
    Plot.text([leftLabel], {text: d => d, frameAnchor: "left", textAnchor: "middle", rotate: -90, lineAnchor: "bottom", dx: -57, dy: 4, fontSize: 41, fill: axisColor}),
    Plot.text([rightLabel], {text: d => d, frameAnchor: "right", textAnchor: "middle", rotate: -90, lineAnchor: "bottom", dx: 76, dy: 2, fontSize: 40, fill: "#000"})
  ]
});
document.getElementById("chart").appendChild(chart);
</script>
</body></html>
